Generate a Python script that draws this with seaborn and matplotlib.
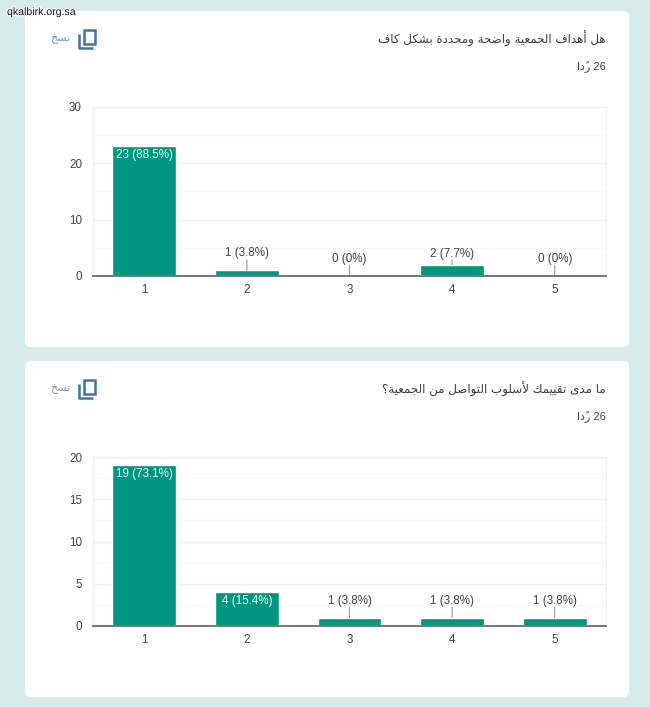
import matplotlib
matplotlib.use('Agg')
import matplotlib.pyplot as plt
import matplotlib.patheffects as pe
from matplotlib.patches import FancyBboxPatch, Rectangle
from matplotlib.ticker import MultipleLocator
import seaborn as sns

# ---------------------- Data ----------------------
categories = ['1', '2', '3', '4', '5']
values_goals = [23, 1, 0, 2, 0]
labels_goals = ['23 (88.5%)', '1 (3.8%)', '0 (0%)', '2 (7.7%)', '0 (0%)']
values_contact = [19, 4, 1, 1, 1]
labels_contact = ['19 (73.1%)', '4 (15.4%)', '1 (3.8%)', '1 (3.8%)', '1 (3.8%)']
title_goals = 'هل أهداف الجمعية واضحة ومحددة بشكل كاف'
title_contact = 'ما مدى تقييمك لأسلوب التواصل من الجمعية؟'
replies_word = 'ردًا'
replies_count = '26'
copy_word = 'نسخ'
watermark = 'qkalbirk.org.sa'

BG = '#d5ecea'
BAR = '#00967f'
TEXT = '#444444'
BLUE = '#3f72b5'

# ---------------------- Arabic shaping ----------------------
# matplotlib has no bidi or joining, so use presentation forms in visual order
DUAL = {'ب': 0xFE8F, 'ت': 0xFE95, 'ج': 0xFE9D, 'ح': 0xFEA1, 'خ': 0xFEA5, 'س': 0xFEB1,
        'ش': 0xFEB5, 'ص': 0xFEB9, 'ض': 0xFEBD, 'ع': 0xFEC9, 'ف': 0xFED1, 'ق': 0xFED5,
        'ك': 0xFED9, 'ل': 0xFEDD, 'م': 0xFEE1, 'ن': 0xFEE5, 'ه': 0xFEE9, 'ي': 0xFEF1}
RIGHT = {'ا': 0xFE8D, 'أ': 0xFE83, 'ة': 0xFE93, 'د': 0xFEA9, 'ر': 0xFEAD, 'و': 0xFEED, 'ى': 0xFEEF}
LAM_ALEF = {'ا': 0xFEFB, 'أ': 0xFEF7}
MARK = '\u064b'


def shape_arabic(text):
    letters = [c for c in text if c != MARK]
    marks = {}
    n = -1
    for c in text:
        if c == MARK:
            marks[n] = c
        else:
            n += 1
    out = []
    i = 0
    prev_joins = False
    while i < len(letters):
        c = letters[i]
        nxt = letters[i + 1] if i + 1 < len(letters) else ''
        if c == 'ل' and nxt in LAM_ALEF:
            out.append(chr(LAM_ALEF[nxt] + (1 if prev_joins else 0)))
            prev_joins = False
            i += 2
            continue
        if c in DUAL:
            joins_next = nxt in DUAL or nxt in RIGHT
            form = (1 if prev_joins else 0) if not joins_next else (3 if prev_joins else 2)
            glyph = chr(DUAL[c] + form)
            prev_joins = joins_next
        elif c in RIGHT:
            glyph = chr(RIGHT[c] + (1 if prev_joins else 0))
            prev_joins = False
        else:
            glyph = c
            prev_joins = False
        out.append(glyph + marks.get(i, ''))
        i += 1
    return ''.join(reversed(out))


# ---------------------- Chart ----------------------
def px_axes(fig, left, top, right, bottom):
    return fig.add_axes([left / 650, 1 - bottom / 707, (right - left) / 650, (bottom - top) / 707])


def draw_card(bg, top, title, ymax, major, values, labels):
    bg.add_patch(FancyBboxPatch((25 + 6, top + 6), 604 - 12, 336 - 12,
                                boxstyle='round,pad=6', fc='white', ec='none'))
    bg.text(606, top + 28, shape_arabic(title), ha='right', va='center',
            fontsize=8.55, color='#3c3c3c', family='DejaVu Sans')
    bg.text(606, top + 56, shape_arabic(replies_word) + ' ' + replies_count, ha='right', va='center',
            fontsize=8, color=TEXT)
    # copy icon
    bg.add_patch(Rectangle((84, top + 19), 11, 14, fc='none', ec=BLUE, lw=1.8))
    bg.plot([79, 79, 93], [top + 23, top + 37, top + 37], color=BLUE, lw=1.8, solid_capstyle='butt')
    bg.text(60, top + 28, shape_arabic(copy_word), ha='center', va='center',
            fontsize=8, color='#8296c0', family='DejaVu Sans')

    ax = px_axes(fig, 93, top + 96, 606, top + 265)
    ax.patch.set_alpha(0)
    sns.barplot(x=categories, y=values, color=BAR, saturation=1, width=0.62, ax=ax, zorder=3)
    ax.set_xlim(-0.5, 4.5)
    ax.set_ylim(0, ymax)
    ax.set_xlabel('')
    ax.set_ylabel('')
    ax.yaxis.set_major_locator(MultipleLocator(major))
    ax.yaxis.set_minor_locator(MultipleLocator(major / 2))
    ax.grid(True, which='major', axis='y', color='#f0f0f0', lw=1, zorder=0)
    ax.grid(True, which='minor', axis='y', color='#f8f8f8', lw=1, zorder=0)
    ax.grid(False, axis='x')
    ax.tick_params(axis='both', which='both', length=0, labelsize=8.4, labelcolor=TEXT)
    ax.tick_params(axis='x', pad=5.5)
    ax.tick_params(axis='y', pad=8)
    for side in ['left', 'right', 'top']:
        ax.spines[side].set_color('#f0f0f0')
        ax.spines[side].set_linewidth(1)
    ax.spines['bottom'].set_color('#777777')
    ax.spines['bottom'].set_linewidth(1.4)
    ax.spines['bottom'].set_zorder(5)

    px_per_unit = 169 / ymax
    for i, (v, lab) in enumerate(zip(values, labels)):
        bar_px = v * px_per_unit
        if bar_px > 20:
            ax.annotate(lab, (i, v), xytext=(0, -6.5), textcoords='offset points', ha='center',
                        va='center', fontsize=8.4, color='#e6fbf6', zorder=6)
        else:
            lift = 11 if bar_px > 10 else 17
            # lift is in px, annotate offsets are in points
            ax.annotate(lab, (i, v), xytext=(0, lift * 0.72), textcoords='offset points', ha='center',
                        va='center', fontsize=8.4, color=TEXT, zorder=6)
            ax.annotate('', (i, v), xytext=(0, (lift - 6.5) * 0.72), textcoords='offset points',
                        arrowprops=dict(arrowstyle='-', color='#999999', lw=0.8, shrinkA=0, shrinkB=0))


sns.set_theme(style='white')
plt.rcParams['font.family'] = ['Liberation Sans', 'DejaVu Sans']

fig = plt.figure(figsize=(6.5, 7.07), dpi=100, facecolor=BG)
bg = fig.add_axes([0, 0, 1, 1])
bg.set_xlim(0, 650)
bg.set_ylim(707, 0)
bg.axis('off')

draw_card(bg, 11, title_goals, 30, 10, values_goals, labels_goals)
draw_card(bg, 361, title_contact, 20, 5, values_contact, labels_contact)

wm = fig.text(7 / 650, 1 - 12 / 707, watermark, ha='left', va='center', fontsize=7.6, color='#111111', zorder=10)
wm.set_path_effects([pe.withStroke(linewidth=1.8, foreground='white')])

fig.savefig('out.png', dpi=100, facecolor=BG)
